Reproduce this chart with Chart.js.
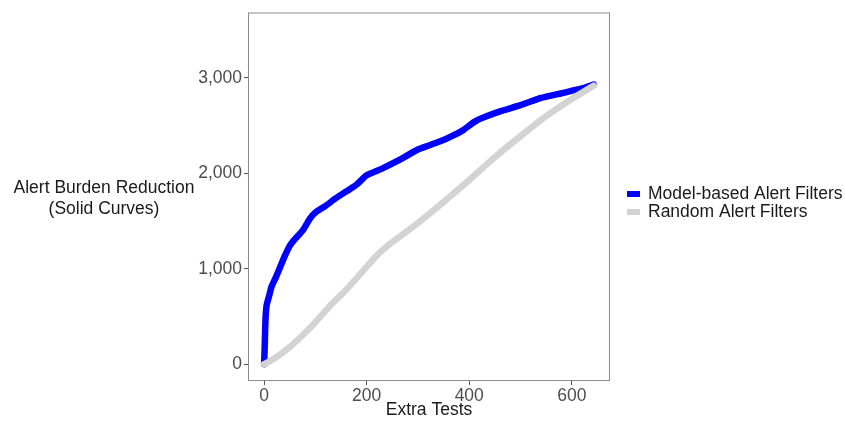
<!DOCTYPE html>
<html><head><meta charset="utf-8">
<script src="https://cdn.jsdelivr.net/npm/chart.js@4"></script>
<style>html,body{margin:0;padding:0;background:#fff}#wrap{width:845px;height:422px}</style>
</head><body><div id="wrap"><canvas id="c" width="845" height="422"></canvas></div>
<script>
const seriesLabels = ["Model-based Alert Filters", "Random Alert Filters"];
const modelX = [0,1,2,3,5,10,15,22,30,40,50,60,75,90,100,120,140,160,180,200,230,260,300,320,350,370,390,410,430,460,500,540,580,620,643];
const modelY = [0,150,350,500,620,720,820,900,1000,1130,1240,1310,1400,1530,1590,1660,1740,1810,1880,1980,2050,2130,2250,2290,2350,2400,2460,2540,2590,2650,2715,2790,2840,2890,2930];
const randomX = [0,20,50,80,100,130,160,190,220,250,300,350,400,450,500,550,600,643];
const randomY = [0,60,180,330,440,620,780,960,1140,1280,1480,1700,1930,2170,2390,2600,2780,2920];
const xTicks = [0,200,400,600];
const yTicks = [0,1000,2000,3000];
const xTitle = "Extra Tests";
const yTitleLines = ["Alert Burden Reduction", "(Solid Curves)"];
const colors = ["#0000ff", "#d3d3d3"];

const FONT = "'Liberation Sans', Arial, sans-serif";
const FS = 17.5;

const extras = {
  id: 'extras',
  afterDraw(chart) {
    const ctx = chart.ctx, a = chart.chartArea;
    ctx.save();
    ctx.strokeStyle = '#8c8c8c';
    ctx.lineWidth = 1;
    ctx.strokeRect(a.left + 0.5, a.top + 0.5, a.right - a.left - 1, a.bottom - a.top - 1);
    ctx.fillStyle = '#1a1a1a';
    ctx.font = FS + 'px ' + FONT;
    ctx.textAlign = 'center';
    ctx.textBaseline = 'middle';
    ctx.fillText(yTitleLines[0], 104, 188);
    ctx.fillText(yTitleLines[1], 104, 209);
    ctx.textAlign = 'left';
    chart.data.datasets.forEach((ds, i) => {
      const y = 194 + i * 18;
      ctx.fillStyle = ds.borderColor;
      ctx.fillRect(627, y - 3, 13, 6);
      ctx.fillStyle = '#1a1a1a';
      ctx.fillText(ds.label, 648, y);
    });
    ctx.restore();
  }
};

new Chart(document.getElementById('c'), {
  type: 'line',
  data: {
    datasets: [
      { label: seriesLabels[0], data: modelX.map((x, i) => ({x, y: modelY[i]})), borderColor: colors[0], borderWidth: 6.5, pointRadius: 0, tension: 0.2, order: 1, borderCapStyle: 'round', borderJoinStyle: 'round' },
      { label: seriesLabels[1], data: randomX.map((x, i) => ({x, y: randomY[i]})), borderColor: colors[1], borderWidth: 6.5, pointRadius: 0, tension: 0.2, order: 0, borderCapStyle: 'round', borderJoinStyle: 'round' }
    ]
  },
  options: {
    responsive: false,
    animation: false,
    layout: { padding: { left: 0, right: 235, top: 7, bottom: 0 } },
    plugins: { legend: { display: false }, tooltip: { enabled: false } },
    scales: {
      x: {
        type: 'linear', min: -31.4, max: 674.5,
        afterFit(s) { s.height = 41; },
        afterBuildTicks(s) { s.ticks = xTicks.map(v => ({value: v})); },
        ticks: { font: { size: FS, family: FONT }, color: '#4d4d4d', padding: 1, maxRotation: 0, callback: v => v.toLocaleString('en-US') },
        grid: { drawOnChartArea: false, drawTicks: true, tickLength: 4, color: '#555' },
        border: { display: false },
        title: { display: true, text: xTitle, font: { size: FS, family: FONT }, color: '#1a1a1a', padding: { top: 0, bottom: 1 } }
      },
      y: {
        type: 'linear', min: -176, max: 3686,
        afterFit(s) { s.width = 248; },
        afterBuildTicks(s) { s.ticks = yTicks.map(v => ({value: v})); },
        ticks: { font: { size: FS, family: FONT }, color: '#4d4d4d', padding: 2, callback: v => v.toLocaleString('en-US') },
        grid: { drawOnChartArea: false, drawTicks: true, tickLength: 4, color: '#555' },
        border: { display: false }
      }
    }
  },
  plugins: [extras]
});
</script>
</body></html>
